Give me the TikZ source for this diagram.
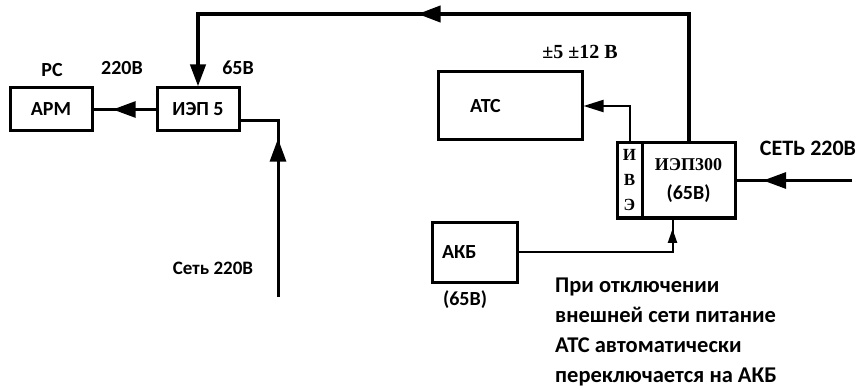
\documentclass[tikz,border=0pt]{standalone}
\usepackage{fontspec}
\setmainfont{Carlito}
\newfontfamily\tms{Liberation Serif}
\usepackage{tikz}
\usetikzlibrary{arrows.meta}
\usetikzlibrary{decorations.markings}

\begin{document}
\begin{tikzpicture}[x=1pt, y=-1pt,
    font=\bfseries\fontsize{20}{24}\selectfont,
    block/.style={draw, line width=3pt, inner sep=0pt},
    wire/.style={line width=3pt},
    thinwire/.style={line width=2pt},
    midarrow/.style={postaction={decorate, decoration={markings,
        mark=at position #1 with {\arrow{Triangle[length=23pt, width=16pt]}}}}},
    smallarrow/.style={postaction={decorate, decoration={markings,
        mark=at position #1 with {\arrow{Triangle[length=14pt, width=9pt]}}}}},
    ]
    \useasboundingbox (0,0) rectangle (859,390);
    \def\busy{14}; % top line y coordinate

    % boxes %%%%%%%%%%%%%%%%%%%%%%%%%%%%%%%%%%%%%%%%%%%%%%%%%%%%%%%%%%%%%%%%%%%
    \node[block, minimum width=82pt, minimum height=43pt] (apm) at (51,109.5) {АРМ};
    \node[block, minimum width=82pt, minimum height=43pt] (iep5) at (198,109.5) {ИЭП 5};
    \node[block, minimum height=68pt, text width=80pt, inner xsep=32pt, align=left] (atc) at (510,106) {АТС};
    \node[block, minimum height=60pt, text width=65pt, inner xsep=10pt, align=left] (akb) at (474.5,252) {АКБ};
    \node[block, minimum width=25pt, minimum height=75pt, align=center,
          font=\tms\bfseries\fontsize{17}{25}\selectfont] (ive) at (629.5,180.5) {И\\В\\Э};
    \node[block, minimum width=93pt, minimum height=75pt, align=center,
          font=\bfseries\fontsize{20}{29}\selectfont] (iep300) at (688.5,180.5)
          {{\tms\fontsize{18}{29}\selectfont ИЭП300}\\(65В)};

    % free ends %%%%%%%%%%%%%%%%%%%%%%%%%%%%%%%%%%%%%%%%%%%%%%%%%%%%%%%%%%%%%%%
    \coordinate (bus) at (0,\busy);
    \coordinate (in5) at (278,297);
    \coordinate (in300) at (852,180.5);

    % connectors %%%%%%%%%%%%%%%%%%%%%%%%%%%%%%%%%%%%%%%%%%%%%%%%%%%%%%%%%%%%%%
    \draw[wire, line width=4pt, midarrow=0.577, -{Triangle[length=22pt, width=15pt]}]
        (iep300.north) -- (iep300.north |- bus) -- (iep5.north |- bus) -- (iep5.north);
    \draw[wire, midarrow=0.69] (iep5.west) -- (apm.east);
    \draw[wire, midarrow=0.74] (in5) |- ([yshift=-11pt]iep5.east);
    \draw[wire, midarrow=0.77] (in300) -- (iep300.east);
    \draw[thinwire, -{Triangle[length=20pt, width=12pt]}] (ive.north) |- (atc.east);
    \draw[thinwire, smallarrow=0.95] (akb.east) -| ([xshift=-16pt]iep300.south);

    % annotations %%%%%%%%%%%%%%%%%%%%%%%%%%%%%%%%%%%%%%%%%%%%%%%%%%%%%%%%%%%%%
    \node (pc) at (52,70) {РС};
    \node (v220) at (122,68) {220В};
    \node (v65) at (238,68) {65В};
    \node[font=\bfseries\fontsize{19}{22}\selectfont] (net5) at (213,268) {Сеть 220В};
    \node[font=\tms\bfseries\fontsize{20}{24}\selectfont] (vatc) at (580,52) {±5 ±12 В};
    \node[font=\bfseries\fontsize{22}{26}\selectfont] (net300) at (808,148) {СЕТЬ 220В};
    \node (vakb) at (465,300) {(65В)};
    \node[anchor=north west, align=left, inner sep=0pt,
          font=\bfseries\fontsize{22.5}{30}\selectfont] (note) at (555,278)
        {При отключении\\внешней сети питание\\АТС автоматически\\переключается на АКБ};
\end{tikzpicture}
\end{document}
